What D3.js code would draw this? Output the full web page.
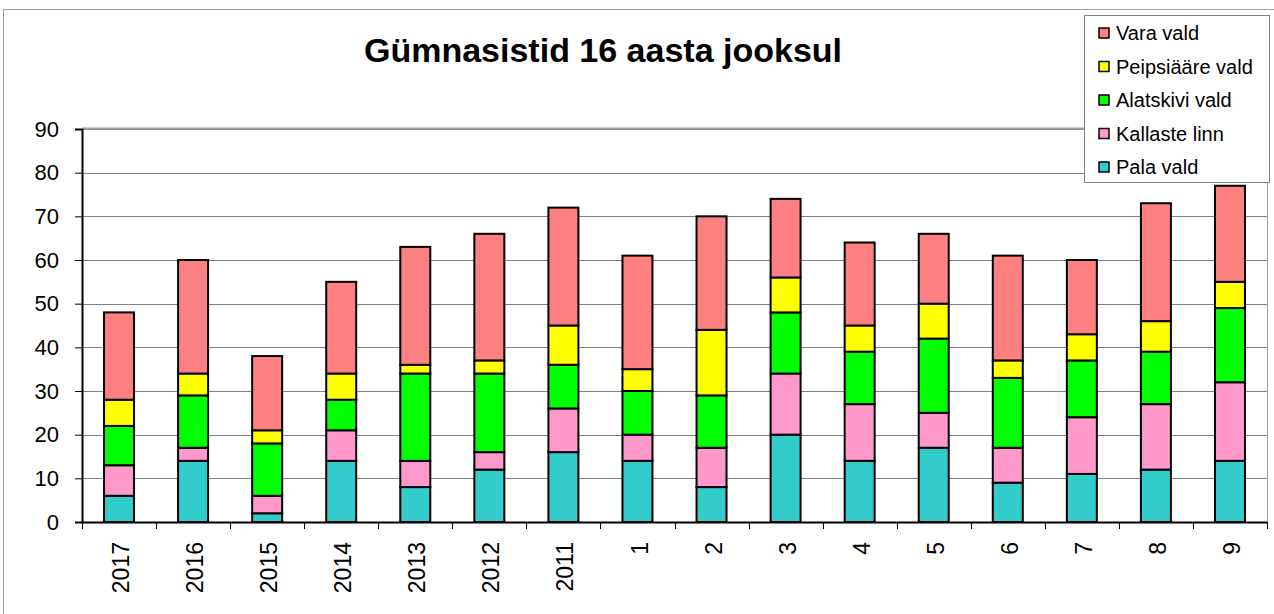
<!DOCTYPE html>
<html><head><meta charset="utf-8">
<script src="https://cdn.jsdelivr.net/npm/d3@7"></script>
<style>body{margin:0;background:#fff}svg{display:block;font-family:"Liberation Sans",Arial,sans-serif}</style>
</head><body><svg id="c" width="1274" height="614"></svg>
<script>
const categories = ["2017","2016","2015","2014","2013","2012","2011","1","2","3","4","5","6","7","8","9"];
const seriesNames = ["Pala vald","Kallaste linn","Alatskivi vald","Peipsiääre vald","Vara vald"];
const seriesColors = ["#33CCCC","#FF99CC","#00FF00","#FFFF00","#FF8080"];
const pala      = [6,14,2,14,8,12,16,14,8,20,14,17,9,11,12,14];
const kallaste  = [7,3,4,7,6,4,10,6,9,14,13,8,8,13,15,18];
const alatskivi = [9,12,12,7,20,18,10,10,12,14,12,17,16,13,12,17];
const peipsi    = [6,5,3,6,2,3,9,5,15,8,6,8,4,6,7,6];
const vara      = [20,26,17,21,27,29,27,26,26,18,19,16,24,17,27,22];
const yTicks = [0,10,20,30,40,50,60,70,80,90];
const title = "Gümnasistid 16 aasta jooksul";

const seriesValues = [pala,kallaste,alatskivi,peipsi,vara];
const rows = categories.map((c,i)=>{const r={cat:c}; seriesNames.forEach((s,j)=>r[s]=seriesValues[j][i]); return r;});
const stacked = d3.stack().keys(seriesNames)(rows);

const svg = d3.select("#c");
const L=82, R=1267, T=129, B=522;
const x = d3.scaleBand().domain(categories).range([L,R]).paddingInner(0.595).paddingOuter(0.2975);
const xb = d3.scaleBand().domain(categories).range([L,R]);
const y = d3.scaleLinear().domain([0,90]).range([B,T]);

// outer frame
svg.append("path").attr("d","M3.5,614 L3.5,9.5 L1274,9.5").attr("fill","none").attr("stroke","#a0a0a0").attr("stroke-width",1);

// gridlines
svg.append("g").selectAll("line").data(yTicks.filter(d=>d>0)).join("line")
  .attr("x1",L).attr("x2",R).attr("y1",d=>Math.round(y(d))+0.5).attr("y2",d=>Math.round(y(d))+0.5)
  .attr("stroke","#808080").attr("stroke-width",1);
// plot borders
svg.append("line").attr("x1",R+0.5).attr("x2",R+0.5).attr("y1",T).attr("y2",B).attr("stroke","#a0a0a0");
svg.append("line").attr("x1",L).attr("x2",R).attr("y1",T-0.5).attr("y2",T-0.5).attr("stroke","#a0a0a0").attr("stroke-width",2);

// bars
svg.append("g").selectAll("g").data(stacked).join("g")
  .attr("fill",(d,i)=>seriesColors[i])
  .selectAll("rect").data(d=>d).join("rect")
  .attr("x",d=>x(d.data.cat)).attr("width",x.bandwidth())
  .attr("y",d=>y(d[1])).attr("height",d=>y(d[0])-y(d[1]))
  .attr("stroke","#000").attr("stroke-width",2);

// y axis
const yAxis = svg.append("g").attr("transform",`translate(${L},0)`)
  .call(d3.axisLeft(y).tickValues(yTicks).tickSize(7).tickPadding(16).tickFormat(d3.format("d")));
yAxis.select(".domain").attr("stroke","#000").attr("stroke-width",2);
yAxis.selectAll(".tick line").attr("stroke","#000");
yAxis.selectAll("text").attr("font-size",22).attr("fill","#000").style("font-family","Liberation Sans, Arial, sans-serif");

// x axis
const xAxis = svg.append("g").attr("transform",`translate(0,${B})`)
  .call(d3.axisBottom(xb).tickSize(0).tickPadding(0));
xAxis.select(".domain").attr("stroke","#000").attr("stroke-width",2);
xAxis.selectAll(".tick text").attr("font-size",23).attr("fill","#000")
  .style("font-family","Liberation Sans, Arial, sans-serif")
  .attr("text-anchor","end").attr("dy","0.35em")
  .attr("transform","translate(2,20) rotate(-90)");
// boundary ticks
svg.append("g").selectAll("line").data(categories.concat(["_end"])).join("line")
  .attr("x1",(d,i)=>Math.round(L+i*xb.step())+0.5).attr("x2",(d,i)=>Math.round(L+i*xb.step())+0.5)
  .attr("y1",B).attr("y2",B+7).attr("stroke","#000");

// title
svg.append("text").attr("x",603).attr("y",62).attr("text-anchor","middle")
  .attr("font-size",34).attr("font-weight","bold").text(title);

// legend
const lg = svg.append("g");
lg.append("rect").attr("x",1084.5).attr("y",15.5).attr("width",185).attr("height",167)
  .attr("fill","#fff").attr("stroke","#808080");
const order = seriesNames.map((s,i)=>i).reverse();
order.forEach((si,k)=>{
  const cy = 33 + k*33.5;
  lg.append("rect").attr("x",1099).attr("y",cy-5).attr("width",10).attr("height",10)
    .attr("fill",seriesColors[si]).attr("stroke","#000").attr("stroke-width",1.5);
  lg.append("text").attr("x",1116).attr("y",cy).attr("dy","0.35em").attr("font-size",20)
    .text(seriesNames[si]);
});
</script></body></html>
